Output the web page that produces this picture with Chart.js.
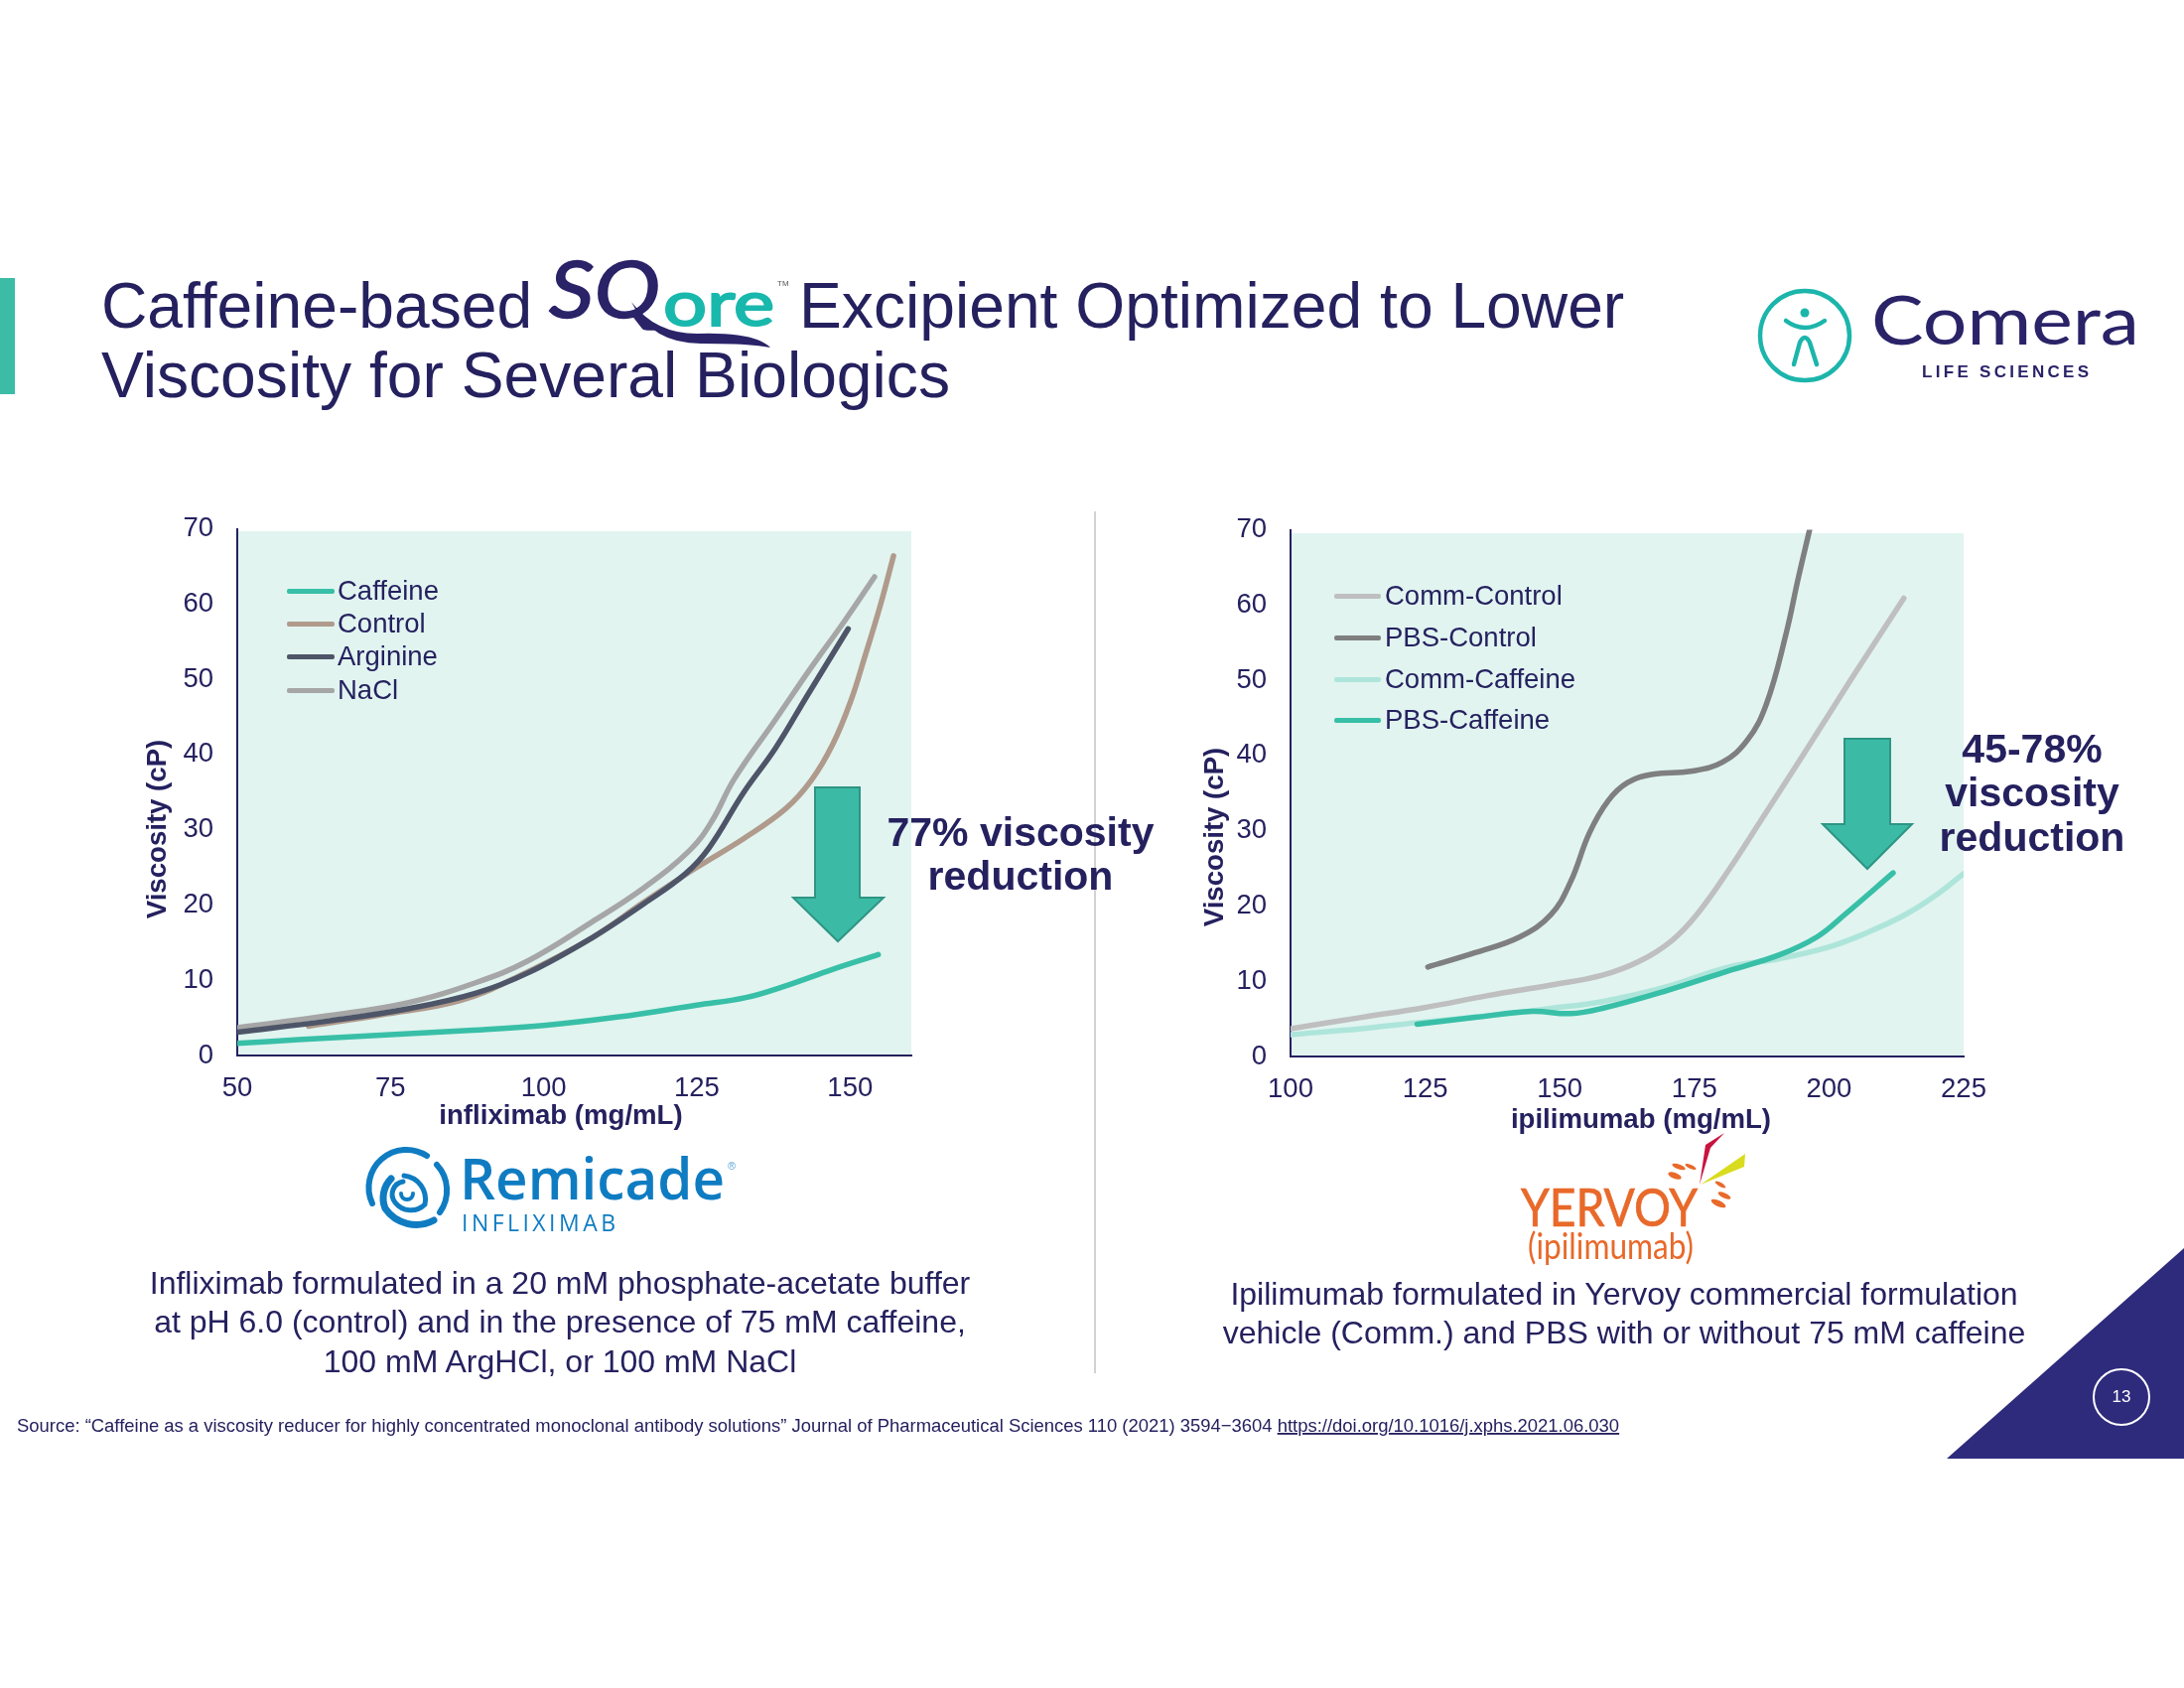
<!DOCTYPE html>
<html>
<head>
<meta charset="utf-8">
<title>Viscosity</title>
<script src="https://cdn.jsdelivr.net/npm/chart.js@4"></script>
<style>
    body { margin: 0; background: #fff; font-family: "Liberation Sans", Arial, sans-serif; color: #25215f; }
    #page { position: relative; width: 2200px; height: 1700px; overflow: hidden; }
    .panel { position: absolute; background: #e1f4f0; }
    .box { position: absolute; }
    #overlay { position: absolute; left: 0; top: 0; }
    #overlay text { font-family: "Liberation Sans", Arial, sans-serif; fill: #25215f; }
    .legend-line { position: absolute; height: 5px; border-radius: 2px; }
    .legend-text { position: absolute; font-size: 27.5px; line-height: 32px; color: #25215f; white-space: nowrap; }
</style>
</head>
<body>
<div id="page">
    <div class="panel" style="left:240px;top:535px;width:678px;height:528px"></div>
    <div class="panel" style="left:1300px;top:537px;width:678px;height:527px"></div>

    <!-- the y scale keeps label height / 2 + tick padding above the plot, hence the high top -->
    <div class="box" style="left:130px;top:492px;width:800px;height:658px"><canvas id="leftChart"></canvas></div>
    <div class="box" style="left:1190px;top:493px;width:830px;height:657px"><canvas id="rightChart"></canvas></div>

    <svg id="overlay" width="2200" height="1700" xmlns="http://www.w3.org/2000/svg">
        <!-- slide furniture -->
        <rect x="0" y="280" width="15" height="117" fill="#3cbca7"/>
        <line x1="1103" y1="515" x2="1103" y2="1383" stroke="#d2d2d2" stroke-width="2"/>
        <polygon points="1961,1469 2200,1257 2200,1469" fill="#2e2a7c"/>
        <circle cx="2137" cy="1407" r="28" fill="none" stroke="#fff" stroke-width="2"/>
        <text x="2137" y="1412" font-size="17" text-anchor="middle" style="fill:#fff">13</text>

        <!-- title -->
        <text x="102" y="330" font-size="64.2">Caffeine-based</text>
        <text x="805" y="330" font-size="64.2">Excipient Optimized to Lower</text>
        <text x="102" y="400" font-size="64.2">Viscosity for Several Biologics</text>

        <!-- SQore mark -->
        <text x="553" y="320" font-size="80" font-style="italic" textLength="112" lengthAdjust="spacingAndGlyphs" style="font-family:'Lato';fill:#2a2368;stroke:#2a2368;stroke-width:1.5">SQ</text>
        <text x="668" y="328" font-size="62" textLength="112" lengthAdjust="spacingAndGlyphs" style="font-family:'Lato';fill:#19b8ad;stroke:#19b8ad;stroke-width:2">ore</text>
        <text x="783" y="288" font-size="8" style="fill:#555">TM</text>
        <path d="M636 304 Q660 336 702 336 Q760 334 776 350 Q756 346 706 346 Q656 346 636 304Z" fill="#2a2368"/>

        <!-- Comera logo -->
        <circle cx="1818" cy="338" r="45" fill="none" stroke="#1cb5ab" stroke-width="4.5"/>
        <circle cx="1818" cy="315" r="4.5" fill="#1cb5ab"/>
        <path d="M1799 323 Q1818 337 1838 323" fill="none" stroke="#1cb5ab" stroke-width="4.5" stroke-linecap="round"/>
        <path d="M1807 367 L1813 345 Q1818 335 1823 345 L1830 367" fill="none" stroke="#1cb5ab" stroke-width="4.5" stroke-linecap="round"/>
        <text x="1885" y="347" font-size="68" textLength="270" lengthAdjust="spacingAndGlyphs" style="font-family:'Lato';fill:#2a2368">Comera</text>
        <text x="1936" y="380" font-size="17" font-weight="bold" textLength="168" style="fill:#2a2368">LIFE SCIENCES</text>

        <!-- arrows -->
        <polygon points="821,793 866,793 866,904 890,904 844,948 799,904 821,904" fill="#3bbba6" stroke="#2f9484" stroke-width="2"/>
        <polygon points="1858,744 1904,744 1904,830 1926,830 1881,875 1836,830 1858,830" fill="#3bbba6" stroke="#2f9484" stroke-width="2"/>

        <!-- callouts -->
        <g font-size="41" font-weight="bold" text-anchor="middle">
            <text x="1028" y="852">77% viscosity</text>
            <text x="1028" y="896">reduction</text>
            <text x="2047" y="768">45-78%</text>
            <text x="2047" y="812">viscosity</text>
            <text x="2047" y="857">reduction</text>
        </g>

        <!-- axis titles -->
        <g font-size="27.6" font-weight="bold" text-anchor="middle">
            <text x="565" y="1132">infliximab (mg/mL)</text>
            <text x="1653" y="1136">ipilimumab (mg/mL)</text>
            <text transform="translate(167,835) rotate(-90)">Viscosity (cP)</text>
            <text transform="translate(1232,843) rotate(-90)">Viscosity (cP)</text>
        </g>

        <!-- Remicade logo -->
        <g fill="none" stroke="#0f7cc2" stroke-linecap="round" transform="translate(2,-5)">
            <path d="M373 1217 A38 38 0 0 1 428 1169" stroke-width="6"/>
            <path d="M438 1178 A38 38 0 0 1 441 1226" stroke-width="6"/>
            <path d="M435 1234 A38 38 0 0 1 386 1222 A28 28 0 0 1 392 1192" stroke-width="7"/>
            <path d="M405 1189 A24 24 0 0 1 426 1218 A20 20 0 0 1 396 1216 A13 13 0 0 1 404 1195" stroke-width="5"/>
            <path d="M402 1207 A6 6 0 0 0 414 1207" stroke-width="4"/>
        </g>
        <text x="463" y="1208" font-size="58" font-weight="600" textLength="267" lengthAdjust="spacingAndGlyphs" style="font-family:'Open Sans';fill:#0f7cc2">Remicade</text>
        <text x="465" y="1240" font-size="23" textLength="155" style="font-family:'Open Sans';fill:#0f7cc2">INFLIXIMAB</text>
        <text x="733" y="1178" font-size="11" style="fill:#5aa5d6">®</text>

        <!-- Yervoy logo -->
        <polygon points="1712,1193 1718,1153 1737,1141 1723,1156" fill="#c8143f"/>
        <polygon points="1713,1193 1758,1162 1757,1175" fill="#d9dc1e"/>
        <g fill="#e8692a">
            <ellipse cx="1687" cy="1184" rx="7" ry="3" transform="rotate(20 1687 1184)"/>
            <ellipse cx="1691" cy="1175" rx="7" ry="2.5" transform="rotate(20 1691 1175)"/>
            <ellipse cx="1703" cy="1175" rx="6" ry="2" transform="rotate(25 1703 1175)"/>
            <ellipse cx="1733" cy="1193" rx="6" ry="2" transform="rotate(30 1733 1193)"/>
            <ellipse cx="1737" cy="1204" rx="7" ry="2.5" transform="rotate(25 1737 1204)"/>
            <ellipse cx="1731" cy="1212" rx="8" ry="3" transform="rotate(25 1731 1212)"/>
        </g>
        <text x="1532" y="1235" font-size="53" textLength="178" lengthAdjust="spacingAndGlyphs" style="font-family:'Lato';fill:#e8692a;stroke:#e8692a;stroke-width:0.7">YERVOY</text>
        <text x="1539" y="1268" font-size="36" textLength="167" lengthAdjust="spacingAndGlyphs" style="font-family:'Lato';fill:#e8692a">(ipilimumab)</text>

        <!-- captions -->
        <g font-size="32" text-anchor="middle">
            <text x="564" y="1303">Infliximab formulated in a 20 mM phosphate-acetate buffer</text>
            <text x="564" y="1342">at pH 6.0 (control) and in the presence of 75 mM caffeine,</text>
            <text x="564" y="1382">100 mM ArgHCl, or 100 mM NaCl</text>
            <text x="1636" y="1314">Ipilimumab formulated in Yervoy commercial formulation</text>
            <text x="1636" y="1353">vehicle (Comm.) and PBS with or without 75 mM caffeine</text>
        </g>
        <text x="17" y="1442" font-size="18.45">Source: “Caffeine as a viscosity reducer for highly concentrated monoclonal antibody solutions” Journal of Pharmaceutical Sciences 110 (2021) 3594−3604 <tspan text-decoration="underline">https://doi.org/10.1016/j.xphs.2021.06.030</tspan></text>
    </svg>
</div>

<script>
// infliximab panel
const caffeineX = [50, 60, 73.5, 87, 100, 112, 125, 133, 140, 147, 154.6];
const caffeineY = [1.6, 2.1, 2.7, 3.3, 4.0, 5.1, 6.7, 7.7, 9.4, 11.4, 13.4];
const controlX = [61.6, 73.5, 86.4, 95.8, 107.8, 116.4, 125, 132.6, 139.5, 143.7, 147.2, 150.2, 152.3, 154.9, 157.1];
const controlY = [3.9, 5.4, 7.3, 10.5, 15.6, 20.4, 25, 28.8, 32.8, 36.6, 41.4, 47.3, 52.7, 59.7, 66.4];
const arginineX = [50, 65, 77.8, 89, 97.5, 107.8, 116.4, 123.2, 127, 132.6, 137.8, 143, 149.7];
const arginineY = [3.1, 4.6, 6.2, 8.3, 11, 15.6, 20.2, 24.2, 27.6, 34.9, 40.8, 47.8, 56.7];
const naclX = [50, 65, 77.8, 89, 97.5, 107.8, 116.4, 124, 127.5, 131, 137.8, 143.7, 148.9, 154];
const naclY = [3.7, 5.3, 7, 9.7, 12.6, 17.7, 22.3, 27.4, 31.2, 36.6, 44.6, 51.6, 57.5, 63.6];

// ipilimumab panel
const commControlX = [100, 113.2, 124.9, 136.7, 148.4, 157.9, 164.9, 170.8, 175.5, 181.4, 187.3, 195.5, 204, 213.9];
const commControlY = [3.7, 5.2, 6.5, 8.1, 9.5, 10.8, 12.7, 15.4, 18.9, 24.8, 31.3, 40.4, 50, 60.9];
const pbsControlX = [125.5, 134.3, 142.6, 148.4, 152, 155.5, 159, 162.6, 167.3, 174.3, 180.2, 184.9, 188.4, 192, 194.3, 196.4];
const pbsControlY = [11.9, 13.8, 15.9, 18.9, 23.2, 29.7, 34, 36.4, 37.5, 37.9, 39.1, 42.1, 46.9, 56.1, 63.6, 70];
const commCaffeineX = [100, 113.2, 124.9, 136.7, 148.4, 157.9, 169.6, 181.4, 190.8, 200.2, 207.2, 214.3, 220.2, 225];
const commCaffeineY = [2.9, 3.7, 4.6, 5.4, 6.4, 7.3, 9.2, 11.9, 13, 14.6, 16.5, 18.9, 21.6, 24.3];
const pbsCaffeineX = [123.5, 134.3, 144.9, 152, 157.9, 169.6, 181.4, 190.8, 197.8, 203, 211.9];
const pbsCaffeineY = [4.3, 5.2, 6, 5.7, 6.4, 8.7, 11.4, 13.5, 15.9, 18.9, 24.4];

const leftNames = ['Caffeine', 'Control', 'Arginine', 'NaCl'];
const leftColors = ['#38bfa7', '#b09a8c', '#4e5568', '#a6a6a6'];
const rightNames = ['Comm-Control', 'PBS-Control', 'Comm-Caffeine', 'PBS-Caffeine'];
const rightColors = ['#bfbfbf', '#7f7f7f', '#aee5da', '#38bfa7'];

const yTicks = [0, 10, 20, 30, 40, 50, 60, 70];
const leftXTicks = [50, 75, 100, 125, 150];
const rightXTicks = [100, 125, 150, 175, 200, 225];
const inkColor = '#25215f';

function series(name, color, xs, ys, order) {
    return {
        label: name,
        data: xs.map((x, i) => ({ x: x, y: ys[i] })),
        borderColor: color,
        borderWidth: 5.5,
        borderCapStyle: 'round',
        pointRadius: 0,
        tension: 0.4,
        order: order
    };
}

function makeChart(id, datasets, xMin, xMax, xTicks, pad, yWidth, xHeight) {
    return new Chart(document.getElementById(id), {
        type: 'line',
        data: { datasets: datasets },
        options: {
            responsive: true,
            maintainAspectRatio: false,
            animation: false,
            layout: { padding: pad },
            plugins: { legend: false, tooltip: { enabled: false } },
            scales: {
                x: {
                    type: 'linear',
                    min: xMin,
                    max: xMax,
                    grid: { display: false, drawTicks: false },
                    border: { color: inkColor, width: 2 },
                    afterBuildTicks: function (scale) { scale.ticks = xTicks.map(v => ({ value: v })); },
                    ticks: { padding: 17, maxRotation: 0, color: inkColor, font: { size: 27.5, family: 'Liberation Sans' } },
                    afterFit: function (scale) { scale.height = xHeight; }
                },
                y: {
                    min: 0,
                    max: 70,
                    grid: { display: false, drawTicks: false },
                    border: { color: inkColor, width: 2 },
                    afterBuildTicks: function (scale) { scale.ticks = yTicks.map(v => ({ value: v })); },
                    ticks: { padding: 24, color: inkColor, font: { size: 27.5, family: 'Liberation Sans' } },
                    afterFit: function (scale) { scale.width = yWidth; }
                }
            }
        }
    });
}

makeChart('leftChart', [
    series(leftNames[0], leftColors[0], caffeineX, caffeineY, 3),
    series(leftNames[1], leftColors[1], controlX, controlY, 1),
    series(leftNames[2], leftColors[2], arginineX, arginineY, 0),
    series(leftNames[3], leftColors[3], naclX, naclY, 2)
], 50, 160, leftXTicks, { top: 0, right: 12, left: 0, bottom: 0 }, 109, 87);

makeChart('rightChart', [
    series(rightNames[0], rightColors[0], commControlX, commControlY, 2),
    series(rightNames[1], rightColors[1], pbsControlX, pbsControlY, 1),
    series(rightNames[2], rightColors[2], commCaffeineX, commCaffeineY, 3),
    series(rightNames[3], rightColors[3], pbsCaffeineX, pbsCaffeineY, 0)
], 100, 225, rightXTicks, { top: 0, right: 42, left: 0, bottom: 0 }, 110, 86);

// legends sit inside the plot, so they are built by hand
function addLegend(names, colors, lineX, lineW, textX, rows) {
    const page = document.getElementById('page');
    names.forEach(function (name, i) {
        const line = document.createElement('div');
        line.className = 'legend-line';
        line.style.cssText = 'left:' + lineX + 'px;top:' + (rows[i] - 2) + 'px;width:' + lineW + 'px;background:' + colors[i];
        page.appendChild(line);
        const text = document.createElement('div');
        text.className = 'legend-text';
        text.textContent = name;
        text.style.cssText = 'left:' + textX + 'px;top:' + (rows[i] - 16) + 'px';
        page.appendChild(text);
    });
}
addLegend(leftNames, leftColors, 289, 48, 340, [595, 628, 661, 695]);
addLegend(rightNames, rightColors, 1344, 47, 1395, [600, 642, 684, 725]);
</script>
</body>
</html>
